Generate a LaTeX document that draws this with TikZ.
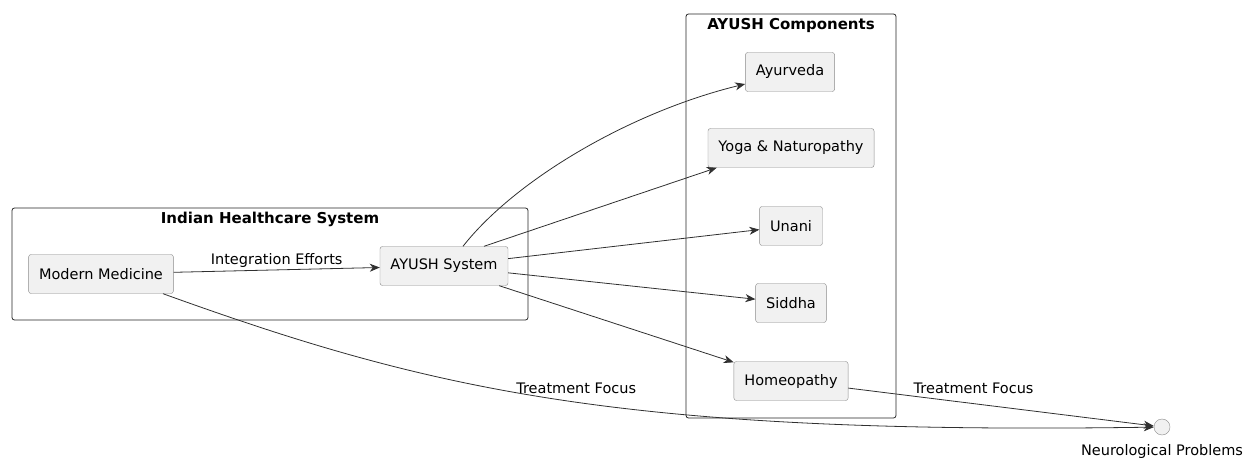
\documentclass[tikz,border=0pt]{standalone}
\usepackage{fontspec}
\setmainfont{DejaVu Sans}
\usetikzlibrary{arrows.meta,calc}
\definecolor{boxfill}{HTML}{F1F1F1}
\definecolor{boxline}{HTML}{8A8A8A}
\definecolor{edgeline}{HTML}{303030}
\tikzset{
  comp/.style={draw=boxline, fill=boxfill, rounded corners=2.5pt, minimum height=39pt, inner xsep=10.5pt, font=\fontsize{14.5}{17}\selectfont},
  cluster/.style={draw=black!85, rounded corners=2.5pt, line width=0.8pt},
  ctitle/.style={font=\bfseries\fontsize{15}{17}\selectfont},
  elabel/.style={font=\fontsize{14.5}{17}\selectfont, inner sep=1pt},
  link/.style={->, draw=edgeline, line width=0.8pt},
}
\begin{document}
\begin{tikzpicture}[x=1pt, y=-1pt, >={Stealth[length=10pt, width=8pt, inset=3pt]}]
  \useasboundingbox (0,0) rectangle (1247,462);
  % --- clusters ---
  \draw[cluster] (12,208) rectangle (528,320);
  \node[ctitle] (healthtitle) at (270,219) {Indian Healthcare System};
  \draw[cluster] (686,14) rectangle (896,418);
  \node[ctitle] (comptitle) at (791,25) {AYUSH Components};
  % --- boxes ---
  \node[comp] (modern) at (101,274) {Modern Medicine};
  \node[comp] (ayush) at (444,266) {AYUSH System};
  \node[comp] (ayurveda) at (790,72) {Ayurveda};
  \node[comp] (yoga) at (791,148) {Yoga \& Naturopathy};
  \node[comp] (unani) at (791,226) {Unani};
  \node[comp] (siddha) at (791,303) {Siddha};
  \node[comp] (homeo) at (791,381) {Homeopathy};
  % kreis + beschriftung
  \node[circle, draw=boxline, fill=boxfill, minimum size=16pt, inner sep=0pt,
        label={[font=\fontsize{14.5}{17}\selectfont, inner sep=0pt, label distance=9pt]below:Neurological Problems}] (neuro) at (1162,427) {};
  % --- connectors ---
  \draw[link] (modern) -- node[elabel, above, yshift=1pt] {Integration Efforts} (ayush);
  \draw[link] ($(ayush.north)+(19,0)$) .. controls (515,180) and (630,112) .. ($(ayurveda.west)+(0,12)$);
  \draw[link] ($(ayush.north)+(40,0)$) -- ($(yoga.south west)+(9,0)$);
  \draw[link] (ayush) -- (unani);
  \draw[link] (ayush) -- (siddha);
  \draw[link] ($(ayush.south east)+(-9,0)$) -- ($(homeo.north west)+(0,1)$);
  \draw[link] (homeo) -- node[elabel, above, pos=0.41, yshift=9pt] {Treatment Focus} (neuro);
  \draw[link] ($(modern.south)+(62,0)$) .. controls (430,390) and (620,435) .. node[elabel, above, pos=0.52, yshift=7pt] {Treatment Focus} (neuro);
\end{tikzpicture}
\end{document}
